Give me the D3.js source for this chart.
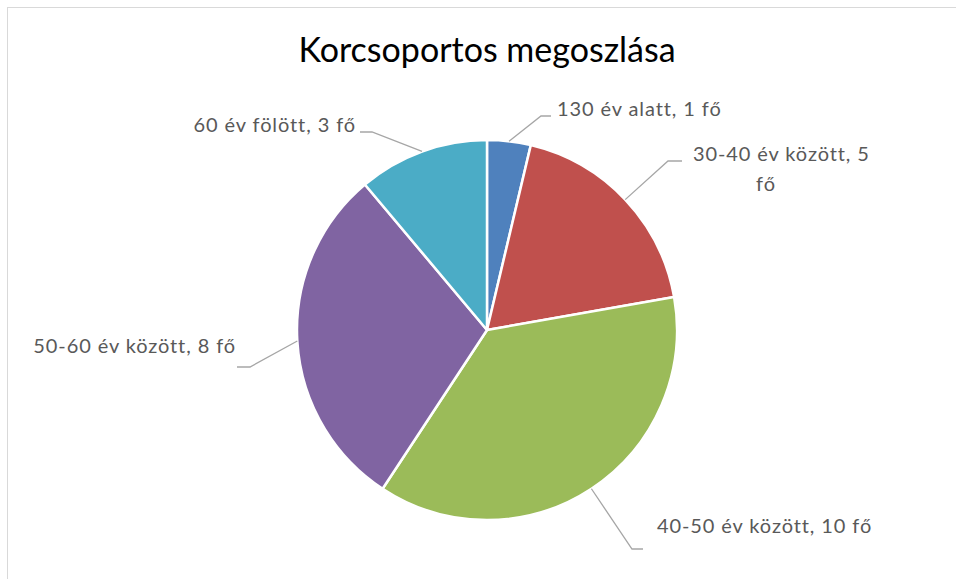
<!DOCTYPE html>
<html>
<head>
<meta charset="utf-8">
<script src="https://cdn.jsdelivr.net/npm/d3@7"></script>
<style>
  body { margin: 0; background: #fff; }
  svg { display: block; }
  text { font-family: Lato, "Open Sans", sans-serif; }
</style>
</head>
<body>
<script>
const groups = ["130 év alatt", "30-40 év között", "40-50 év között", "50-60 év között", "60 év fölött"];
const counts = [1, 5, 10, 8, 3];
const colors = ["#4F81BD", "#C0504D", "#9BBB59", "#8064A2", "#4BACC6"];
const title = "Korcsoportos megoszlása";

const width = 956, height = 579;
const cx = 487, cy = 330, radius = 190;

// label placement, relative to the pie centre: text position, elbow, line end
const labelLayout = [
  {tx: 70, ty: -214, lines: null, elbow: [54, -214], end: [64, -214], anchor: "start"},
  {tx: 206, ty: -169, lines: 2, elbow: [181, -169], end: [195, -169], anchor: "start"},
  {tx: 170, ty: 203, lines: null, elbow: [145, 219], end: [156, 219], anchor: "start"},
  {tx: -251, ty: 23, lines: null, elbow: [-237, 37], end: [-250, 37], anchor: "end"},
  {tx: -131, ty: -198, lines: null, elbow: [-115, -198], end: [-127, -198], anchor: "end"}
];

const data = groups.map((g, i) => ({group: g, value: counts[i]}));

const svg = d3.select("body").append("svg")
    .attr("width", width)
    .attr("height", height);

// chart area border
svg.append("rect")
    .attr("x", 7.5)
    .attr("y", 7.5)
    .attr("width", 960)
    .attr("height", 600)
    .attr("fill", "#fff")
    .attr("stroke", "#d9d9d9")
    .attr("stroke-width", 1);

svg.append("text")
    .attr("x", cx)
    .attr("y", 62)
    .attr("text-anchor", "middle")
    .attr("font-size", 34)
    .attr("fill", "#000")
    .text(title);

let pie = d3.pie()
    .value(d => d.value)
    .sort(null);

let arc = d3.arc()
    .innerRadius(0)
    .outerRadius(radius);

const g = svg.append("g")
    .attr("transform", `translate(${cx},${cy})`);

const arcs = pie(data);

g.selectAll("path")
    .data(arcs)
  .enter().append("path")
    .attr("d", arc)
    .attr("fill", (d, i) => colors[i])
    .attr("stroke", "#fff")
    .attr("stroke-width", 2.5)
    .attr("stroke-linejoin", "round");

// leader lines
g.selectAll("polyline")
    .data(arcs)
  .enter().append("polyline")
    .attr("fill", "none")
    .attr("stroke", "#a6a6a6")
    .attr("stroke-width", 1.3)
    .attr("points", (d, i) => {
      const a = (d.startAngle + d.endAngle) / 2;
      const p = [radius * Math.sin(a), -radius * Math.cos(a)];
      const L = labelLayout[i];
      return [p, L.elbow, L.end].map(q => q.join(",")).join(" ");
    });

// labels
const label = g.selectAll("text.lbl")
    .data(arcs)
  .enter().append("text")
    .attr("class", "lbl")
    .attr("font-size", 20)
    .attr("letter-spacing", 0.9)
    .attr("fill", "#595959")
    .attr("text-anchor", (d, i) => labelLayout[i].anchor)
    .attr("x", (d, i) => labelLayout[i].tx)
    .attr("y", (d, i) => labelLayout[i].ty);

label.each(function(d, i) {
  const L = labelLayout[i];
  const t = d3.select(this);
  const full = `${d.data.group}, ${d.data.value} fő`;
  if (L.lines === 2) {
    t.append("tspan").attr("x", L.tx).text(`${d.data.group}, ${d.data.value}`);
    t.append("tspan").attr("x", L.tx + 73).attr("dy", 30).attr("text-anchor", "middle").text("fő");
  } else {
    t.text(full);
  }
});
</script>
</body>
</html>
